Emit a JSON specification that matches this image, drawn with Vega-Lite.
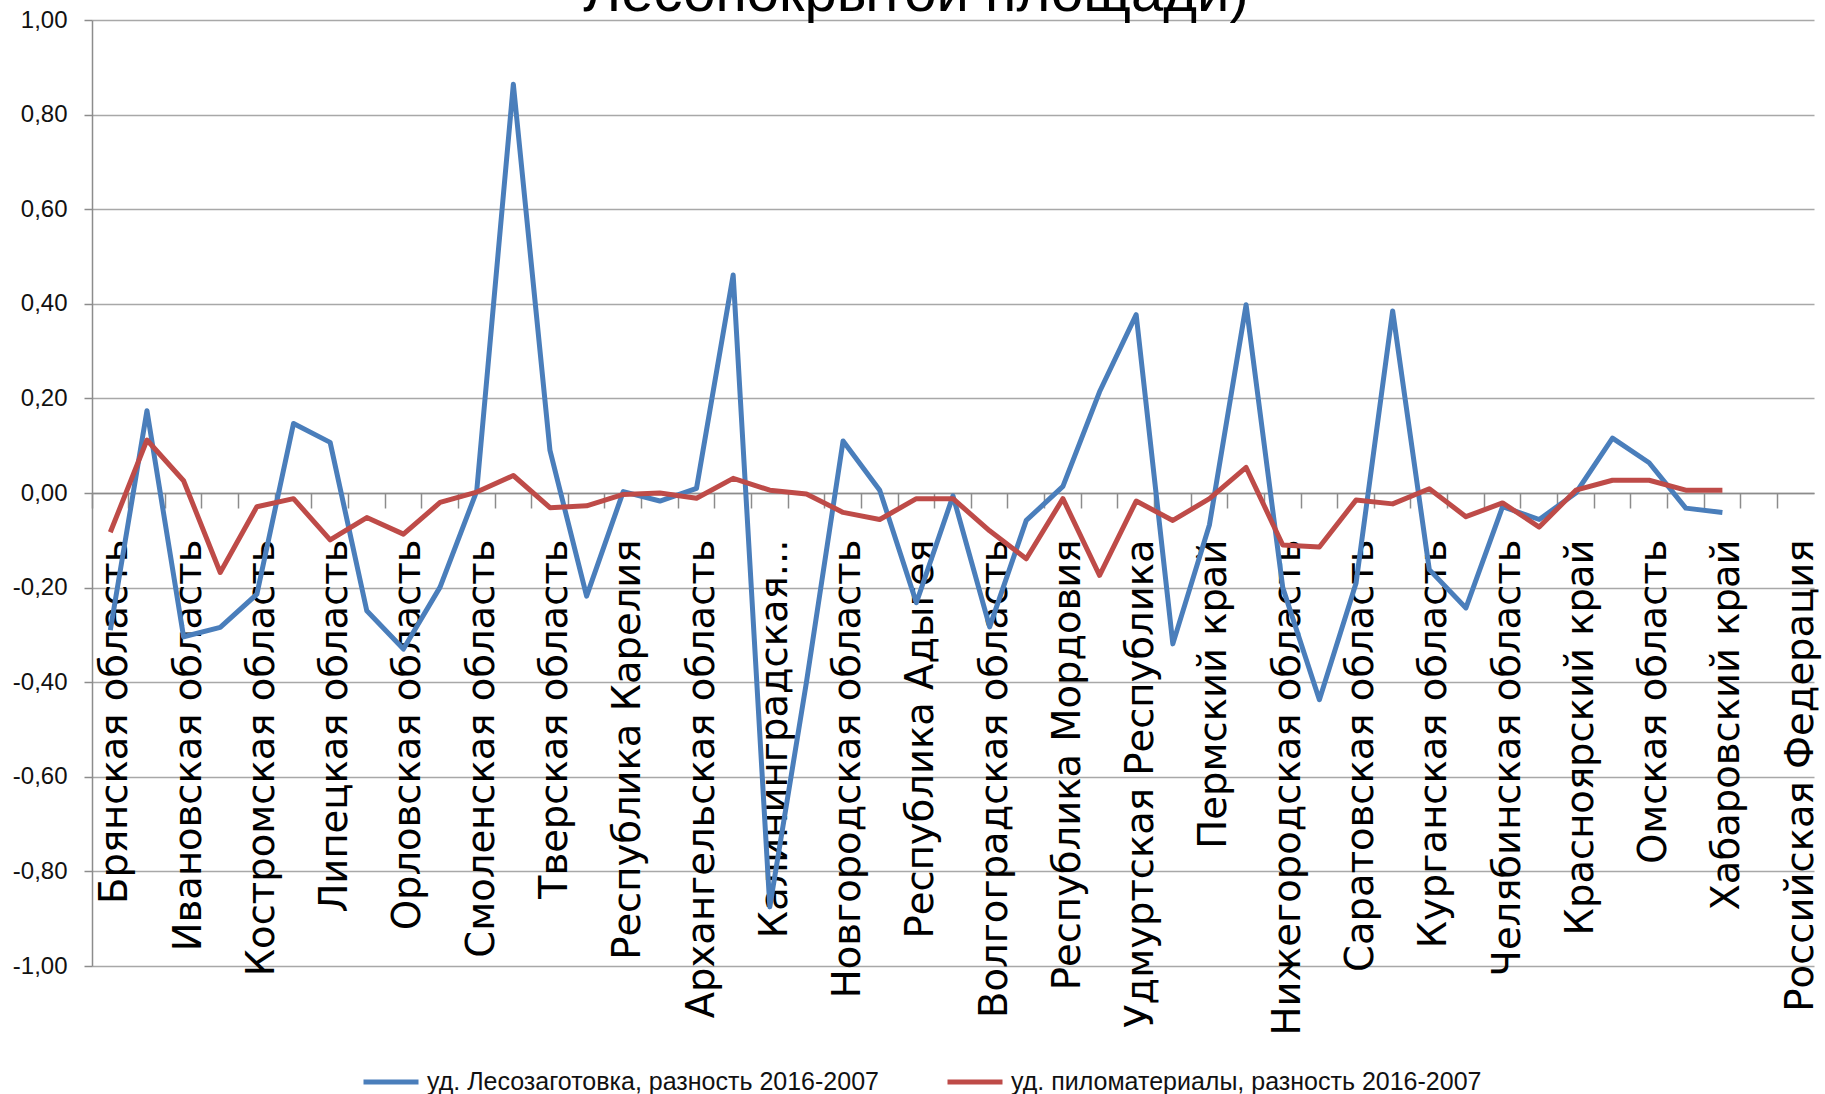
{
  "$schema": "https://vega.github.io/schema/vega-lite/v6.json",
  "width": 1722,
  "height": 946,
  "autosize": {"type": "none"},
  "padding": {"left": 92, "top": 20, "right": 11, "bottom": 128},
  "background": "white",
  "config": {"view": {"stroke": null}},
  "title": {"text": "Лесопокрытой площади)", "font": "Liberation Sans", "fontSize": 58, "fontWeight": "normal", "color": "black", "anchor": "middle", "frame": "bounds", "baseline": "alphabetic", "offset": -61},
  "data": {"values": [
    {"region": "Брянская область", "series": "уд. Лесозаготовка, разность 2016-2007", "value": -0.29},
    {"region": "Владимирская область", "series": "уд. Лесозаготовка, разность 2016-2007", "value": 0.174},
    {"region": "Ивановская область", "series": "уд. Лесозаготовка, разность 2016-2007", "value": -0.304},
    {"region": "Калужская область", "series": "уд. Лесозаготовка, разность 2016-2007", "value": -0.284},
    {"region": "Костромская область", "series": "уд. Лесозаготовка, разность 2016-2007", "value": -0.214},
    {"region": "Курская область", "series": "уд. Лесозаготовка, разность 2016-2007", "value": 0.147},
    {"region": "Липецкая область", "series": "уд. Лесозаготовка, разность 2016-2007", "value": 0.107},
    {"region": "Московская область", "series": "уд. Лесозаготовка, разность 2016-2007", "value": -0.249},
    {"region": "Орловская область", "series": "уд. Лесозаготовка, разность 2016-2007", "value": -0.33},
    {"region": "Рязанская область", "series": "уд. Лесозаготовка, разность 2016-2007", "value": -0.199},
    {"region": "Смоленская область", "series": "уд. Лесозаготовка, разность 2016-2007", "value": 0.004},
    {"region": "Тамбовская область", "series": "уд. Лесозаготовка, разность 2016-2007", "value": 0.864},
    {"region": "Тверская область", "series": "уд. Лесозаготовка, разность 2016-2007", "value": 0.09},
    {"region": "Ярославская область", "series": "уд. Лесозаготовка, разность 2016-2007", "value": -0.218},
    {"region": "Республика Карелия", "series": "уд. Лесозаготовка, разность 2016-2007", "value": 0.003},
    {"region": "Республика Коми", "series": "уд. Лесозаготовка, разность 2016-2007", "value": -0.017},
    {"region": "Архангельская область", "series": "уд. Лесозаготовка, разность 2016-2007", "value": 0.01},
    {"region": "Вологодская область", "series": "уд. Лесозаготовка, разность 2016-2007", "value": 0.461},
    {"region": "Калининградская...", "series": "уд. Лесозаготовка, разность 2016-2007", "value": -0.875},
    {"region": "Ленинградская область", "series": "уд. Лесозаготовка, разность 2016-2007", "value": -0.4},
    {"region": "Новгородская область", "series": "уд. Лесозаготовка, разность 2016-2007", "value": 0.11},
    {"region": "Псковская область", "series": "уд. Лесозаготовка, разность 2016-2007", "value": 0.006},
    {"region": "Республика Адыгея", "series": "уд. Лесозаготовка, разность 2016-2007", "value": -0.232},
    {"region": "Краснодарский край", "series": "уд. Лесозаготовка, разность 2016-2007", "value": -0.006},
    {"region": "Волгоградская область", "series": "уд. Лесозаготовка, разность 2016-2007", "value": -0.283},
    {"region": "Ростовская область", "series": "уд. Лесозаготовка, разность 2016-2007", "value": -0.058},
    {"region": "Республика Мордовия", "series": "уд. Лесозаготовка, разность 2016-2007", "value": 0.014},
    {"region": "Республика Татарстан", "series": "уд. Лесозаготовка, разность 2016-2007", "value": 0.214},
    {"region": "Удмуртская Республика", "series": "уд. Лесозаготовка, разность 2016-2007", "value": 0.377},
    {"region": "Чувашская Республика", "series": "уд. Лесозаготовка, разность 2016-2007", "value": -0.319},
    {"region": "Пермский край", "series": "уд. Лесозаготовка, разность 2016-2007", "value": -0.067},
    {"region": "Кировская область", "series": "уд. Лесозаготовка, разность 2016-2007", "value": 0.398},
    {"region": "Нижегородская область", "series": "уд. Лесозаготовка, разность 2016-2007", "value": -0.2},
    {"region": "Пензенская область", "series": "уд. Лесозаготовка, разность 2016-2007", "value": -0.437},
    {"region": "Саратовская область", "series": "уд. Лесозаготовка, разность 2016-2007", "value": -0.191},
    {"region": "Ульяновская область", "series": "уд. Лесозаготовка, разность 2016-2007", "value": 0.385},
    {"region": "Курганская область", "series": "уд. Лесозаготовка, разность 2016-2007", "value": -0.162},
    {"region": "Свердловская область", "series": "уд. Лесозаготовка, разность 2016-2007", "value": -0.243},
    {"region": "Челябинская область", "series": "уд. Лесозаготовка, разность 2016-2007", "value": -0.029},
    {"region": "Алтайский край", "series": "уд. Лесозаготовка, разность 2016-2007", "value": -0.056},
    {"region": "Красноярский край", "series": "уд. Лесозаготовка, разность 2016-2007", "value": 0.0},
    {"region": "Иркутская область", "series": "уд. Лесозаготовка, разность 2016-2007", "value": 0.116},
    {"region": "Омская область", "series": "уд. Лесозаготовка, разность 2016-2007", "value": 0.064},
    {"region": "Томская область", "series": "уд. Лесозаготовка, разность 2016-2007", "value": -0.032},
    {"region": "Хабаровский край", "series": "уд. Лесозаготовка, разность 2016-2007", "value": -0.041},
    {"region": "Брянская область", "series": "уд. пиломатериалы, разность 2016-2007", "value": -0.083},
    {"region": "Владимирская область", "series": "уд. пиломатериалы, разность 2016-2007", "value": 0.112},
    {"region": "Ивановская область", "series": "уд. пиломатериалы, разность 2016-2007", "value": 0.026},
    {"region": "Калужская область", "series": "уд. пиломатериалы, разность 2016-2007", "value": -0.168},
    {"region": "Костромская область", "series": "уд. пиломатериалы, разность 2016-2007", "value": -0.029},
    {"region": "Курская область", "series": "уд. пиломатериалы, разность 2016-2007", "value": -0.012},
    {"region": "Липецкая область", "series": "уд. пиломатериалы, разность 2016-2007", "value": -0.099},
    {"region": "Московская область", "series": "уд. пиломатериалы, разность 2016-2007", "value": -0.052},
    {"region": "Орловская область", "series": "уд. пиломатериалы, разность 2016-2007", "value": -0.087},
    {"region": "Рязанская область", "series": "уд. пиломатериалы, разность 2016-2007", "value": -0.02},
    {"region": "Смоленская область", "series": "уд. пиломатериалы, разность 2016-2007", "value": 0.002},
    {"region": "Тамбовская область", "series": "уд. пиломатериалы, разность 2016-2007", "value": 0.037},
    {"region": "Тверская область", "series": "уд. пиломатериалы, разность 2016-2007", "value": -0.031},
    {"region": "Ярославская область", "series": "уд. пиломатериалы, разность 2016-2007", "value": -0.027},
    {"region": "Республика Карелия", "series": "уд. пиломатериалы, разность 2016-2007", "value": -0.003},
    {"region": "Республика Коми", "series": "уд. пиломатериалы, разность 2016-2007", "value": 0.0},
    {"region": "Архангельская область", "series": "уд. пиломатериалы, разность 2016-2007", "value": -0.011},
    {"region": "Вологодская область", "series": "уд. пиломатериалы, разность 2016-2007", "value": 0.031},
    {"region": "Калининградская...", "series": "уд. пиломатериалы, разность 2016-2007", "value": 0.006},
    {"region": "Ленинградская область", "series": "уд. пиломатериалы, разность 2016-2007", "value": -0.002},
    {"region": "Новгородская область", "series": "уд. пиломатериалы, разность 2016-2007", "value": -0.041},
    {"region": "Псковская область", "series": "уд. пиломатериалы, разность 2016-2007", "value": -0.056},
    {"region": "Республика Адыгея", "series": "уд. пиломатериалы, разность 2016-2007", "value": -0.012},
    {"region": "Краснодарский край", "series": "уд. пиломатериалы, разность 2016-2007", "value": -0.012},
    {"region": "Волгоградская область", "series": "уд. пиломатериалы, разность 2016-2007", "value": -0.08},
    {"region": "Ростовская область", "series": "уд. пиломатериалы, разность 2016-2007", "value": -0.139},
    {"region": "Республика Мордовия", "series": "уд. пиломатериалы, разность 2016-2007", "value": -0.012},
    {"region": "Республика Татарстан", "series": "уд. пиломатериалы, разность 2016-2007", "value": -0.174},
    {"region": "Удмуртская Республика", "series": "уд. пиломатериалы, разность 2016-2007", "value": -0.017},
    {"region": "Чувашская Республика", "series": "уд. пиломатериалы, разность 2016-2007", "value": -0.058},
    {"region": "Пермский край", "series": "уд. пиломатериалы, разность 2016-2007", "value": -0.012},
    {"region": "Кировская область", "series": "уд. пиломатериалы, разность 2016-2007", "value": 0.054},
    {"region": "Нижегородская область", "series": "уд. пиломатериалы, разность 2016-2007", "value": -0.11},
    {"region": "Пензенская область", "series": "уд. пиломатериалы, разность 2016-2007", "value": -0.114},
    {"region": "Саратовская область", "series": "уд. пиломатериалы, разность 2016-2007", "value": -0.015},
    {"region": "Ульяновская область", "series": "уд. пиломатериалы, разность 2016-2007", "value": -0.023},
    {"region": "Курганская область", "series": "уд. пиломатериалы, разность 2016-2007", "value": 0.009},
    {"region": "Свердловская область", "series": "уд. пиломатериалы, разность 2016-2007", "value": -0.05},
    {"region": "Челябинская область", "series": "уд. пиломатериалы, разность 2016-2007", "value": -0.021},
    {"region": "Алтайский край", "series": "уд. пиломатериалы, разность 2016-2007", "value": -0.072},
    {"region": "Красноярский край", "series": "уд. пиломатериалы, разность 2016-2007", "value": 0.006},
    {"region": "Иркутская область", "series": "уд. пиломатериалы, разность 2016-2007", "value": 0.027},
    {"region": "Омская область", "series": "уд. пиломатериалы, разность 2016-2007", "value": 0.027},
    {"region": "Томская область", "series": "уд. пиломатериалы, разность 2016-2007", "value": 0.006},
    {"region": "Хабаровский край", "series": "уд. пиломатериалы, разность 2016-2007", "value": 0.006}
  ]},
  "layer": [
    {
      "transform": [{"filter": "datum.series == 'уд. Лесозаготовка, разность 2016-2007'"}],
      "mark": {"type": "line", "strokeWidth": 5, "strokeJoin": "round"},
      "encoding": {
        "x": {
          "field": "region", "type": "nominal", "sort": null,
          "scale": {"type": "band", "paddingInner": 0, "paddingOuter": 0, "domain": ["Брянская область","Владимирская область","Ивановская область","Калужская область","Костромская область","Курская область","Липецкая область","Московская область","Орловская область","Рязанская область","Смоленская область","Тамбовская область","Тверская область","Ярославская область","Республика Карелия","Республика Коми","Архангельская область","Вологодская область","Калининградская...","Ленинградская область","Новгородская область","Псковская область","Республика Адыгея","Краснодарский край","Волгоградская область","Ростовская область","Республика Мордовия","Республика Татарстан","Удмуртская Республика","Чувашская Республика","Пермский край","Кировская область","Нижегородская область","Пензенская область","Саратовская область","Ульяновская область","Курганская область","Свердловская область","Челябинская область","Алтайский край","Красноярский край","Иркутская область","Омская область","Томская область","Хабаровский край","Амурская область","Российская Федерация"]},
          "axis": {"orient": "bottom", "offset": -473, "title": null, "labels": false, "grid": false, "bandPosition": 0, "domain": true, "domainColor": "#8c8c8c", "domainWidth": 1.5, "ticks": true, "tickColor": "#8c8c8c", "tickWidth": 1.5, "tickSize": 15}
        },
        "y": {
          "field": "value", "type": "quantitative",
          "scale": {"domain": [-1, 1], "nice": false, "zero": false},
          "axis": {"title": null, "values": [-1, -0.8, -0.6, -0.4, -0.2, 0, 0.2, 0.4, 0.6, 0.8, 1], "grid": true, "gridColor": "#a8a8a8", "gridWidth": 1.5, "domain": true, "domainColor": "#8c8c8c", "domainWidth": 1.5, "ticks": true, "tickColor": "#8c8c8c", "tickWidth": 1.5, "tickSize": 8, "labelPadding": 17, "labelFont": "Liberation Sans", "labelFontSize": 24, "labelColor": "#111111", "labelExpr": "replace(replace(format(datum.value, '.2f'), '.', ','), '−', '-')"}
        },
        "color": {
          "field": "series", "type": "nominal",
          "scale": {"domain": ["уд. Лесозаготовка, разность 2016-2007", "уд. пиломатериалы, разность 2016-2007"], "range": ["#4a7ebb", "#be4b48"]},
          "legend": {"orient": "none", "legendX": 269, "legendY": 1032, "direction": "horizontal", "title": null, "symbolType": "stroke", "symbolSize": 3025, "symbolStrokeWidth": 5, "labelFont": "Liberation Sans", "labelFontSize": 25, "labelColor": "#111111", "labelOffset": 6, "columnPadding": 58, "labelLimit": 0, "padding": 0}
        }
      }
    },
    {
      "transform": [{"filter": "datum.series == 'уд. пиломатериалы, разность 2016-2007'"}],
      "mark": {"type": "line", "strokeWidth": 5, "strokeJoin": "round"},
      "encoding": {
        "x": {
          "field": "region", "type": "nominal", "sort": null,
          "scale": {"type": "band", "paddingInner": 0, "paddingOuter": 0, "domain": ["Брянская область","Владимирская область","Ивановская область","Калужская область","Костромская область","Курская область","Липецкая область","Московская область","Орловская область","Рязанская область","Смоленская область","Тамбовская область","Тверская область","Ярославская область","Республика Карелия","Республика Коми","Архангельская область","Вологодская область","Калининградская...","Ленинградская область","Новгородская область","Псковская область","Республика Адыгея","Краснодарский край","Волгоградская область","Ростовская область","Республика Мордовия","Республика Татарстан","Удмуртская Республика","Чувашская Республика","Пермский край","Кировская область","Нижегородская область","Пензенская область","Саратовская область","Ульяновская область","Курганская область","Свердловская область","Челябинская область","Алтайский край","Красноярский край","Иркутская область","Омская область","Томская область","Хабаровский край","Амурская область","Российская Федерация"]},
          "axis": {"orient": "bottom", "offset": -473, "title": null, "grid": false, "domain": false, "ticks": false, "tickSize": 0, "bandPosition": 0.5, "labelAngle": -90, "labelPadding": 46, "labelOffset": 5, "labelFont": "DejaVu Sans", "labelFontSize": 38.5, "labelColor": "black", "labelOverlap": false, "labelLimit": 0, "values": ["Брянская область","Ивановская область","Костромская область","Липецкая область","Орловская область","Смоленская область","Тверская область","Республика Карелия","Архангельская область","Калининградская...","Новгородская область","Республика Адыгея","Волгоградская область","Республика Мордовия","Удмуртская Республика","Пермский край","Нижегородская область","Саратовская область","Курганская область","Челябинская область","Красноярский край","Омская область","Хабаровский край","Российская Федерация"]}
        },
        "y": {"field": "value", "type": "quantitative", "scale": {"domain": [-1, 1], "nice": false, "zero": false}},
        "color": {"field": "series", "type": "nominal", "scale": {"domain": ["уд. Лесозаготовка, разность 2016-2007", "уд. пиломатериалы, разность 2016-2007"], "range": ["#4a7ebb", "#be4b48"]}}
      }
    }
  ],
  "resolve": {"axis": {"x": "independent"}}
}
